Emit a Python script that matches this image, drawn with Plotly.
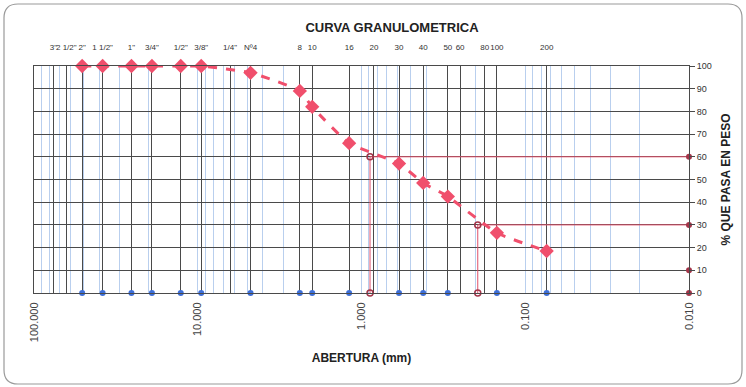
import math
import plotly.graph_objects as go

# ---------------- data ----------------
sieve_labels = ['3"', '2 1/2"', '2"', '1 1/2"', '1"', '3/4"', '1/2"', '3/8"', '1/4"', 'Nº4',
                '8', '10', '16', '20', '30', '40', '50', '60', '80', '100', '200']
sieve_mm = [76.2, 63.5, 50.8, 38.1, 25.4, 19.05, 12.7, 9.525, 6.35, 4.76,
            2.38, 2.0, 1.19, 0.84, 0.59, 0.42, 0.297, 0.25, 0.177, 0.149, 0.074]

test_sieve_mm = [50.8, 38.1, 25.4, 19.05, 12.7, 9.525, 4.76, 2.38, 2.0, 1.19, 0.59, 0.42, 0.297, 0.149, 0.074]
pct_passing = [100, 100, 100, 100, 100, 100, 97, 89, 82, 66, 57, 48.5, 42.5, 26.5, 18.5]

d_sizes = [0.887, 0.195]      # D60, D30 (mm)
d_percents = [60, 30]
right_marks = [60, 30, 10, 0]
x_min_mm, x_max_mm = 0.01, 100

decade_labels = {100: "100.000", 10: "10.000", 1: "1.000", 0.1: "0.100", 0.01: "0.010"}

# ---------------- figure ----------------
W, H = 746, 387
L, R, T, B = 34, 57, 66, 94
pw, ph = W - L - R, H - T - B

RED = "#F04F6C"
BLUE = "#3D6FD9"
DARK_RED = "#A33448"
GRID_DARK = "#4a4a4a"
GRID_LIGHT = "#b9cfee"
FONT = "Liberation Sans, Arial, sans-serif"

fig = go.Figure()

# D60 / D30 reference lines
for d, p in zip(d_sizes, d_percents):
    fig.add_trace(go.Scatter(x=[x_min_mm, d, d], y=[p, p, 0], mode="lines",
                             line=dict(color="#E0506A", width=1), hoverinfo="skip",
                             showlegend=False, cliponaxis=False))
    fig.add_trace(go.Scatter(x=[d, d], y=[p, 0], mode="markers",
                             marker=dict(symbol="circle-open", size=6, color=DARK_RED,
                                         line=dict(width=1.5)),
                             showlegend=False, cliponaxis=False))

# right edge marks
fig.add_trace(go.Scatter(x=[x_min_mm] * len(right_marks), y=right_marks, mode="markers",
                         marker=dict(symbol="circle", size=6, color=DARK_RED),
                         showlegend=False, cliponaxis=False))

# blue dots at bottom
fig.add_trace(go.Scatter(x=test_sieve_mm, y=[0] * len(test_sieve_mm), mode="markers",
                         marker=dict(symbol="circle", size=6, color=BLUE),
                         showlegend=False, cliponaxis=False))

# grading curve
fig.add_trace(go.Scatter(x=test_sieve_mm, y=pct_passing, mode="lines+markers",
                         line=dict(color=RED, width=3, dash="dash", shape="spline", smoothing=0.5),
                         marker=dict(symbol="diamond", size=11, color=RED),
                         showlegend=False, cliponaxis=False))

# minor log gridlines (light blue) with decade labels
minor_vals, minor_text = [], []
for e in range(-2, 2):
    for k in range(1, 10):
        v = round(k * 10 ** e, 6)
        minor_vals.append(v)
        minor_text.append(decade_labels.get(v, ""))
minor_vals.append(100)
minor_text.append(decade_labels[100])

fig.update_layout(
    width=W, height=H,
    margin=dict(l=L, r=R, t=T, b=B, autoexpand=False),
    paper_bgcolor="white", plot_bgcolor="white",
    font=dict(family=FONT, color="#333333"),
    title=dict(text="<b>CURVA GRANULOMETRICA</b>", x=392 / W,
               xanchor="center", y=1 - 27 / H, yanchor="middle",
               font=dict(size=13, color="#222222")),
    xaxis=dict(type="log", range=[math.log10(x_max_mm), math.log10(x_min_mm)],
               tickvals=minor_vals, ticktext=minor_text, tickangle=-90,
               tickfont=dict(size=11, color="#444444"), ticks="outside", ticklen=4,
               tickcolor="rgba(0,0,0,0)", automargin=False,
               showgrid=True, gridcolor=GRID_LIGHT, gridwidth=1,
               showline=True, linecolor=GRID_DARK, linewidth=1, mirror=True,
               zeroline=False,
               title=dict(text="<b>ABERTURA (mm)</b>", font=dict(size=12, color="#222222"),
                          standoff=12)),
    xaxis2=dict(type="log", range=[math.log10(x_max_mm), math.log10(x_min_mm)],
                overlaying="x", side="top", anchor="y", automargin=False,
                tickvals=sieve_mm, ticktext=sieve_labels, tickangle=0,
                tickfont=dict(size=8, color="#333333"), ticks="outside", ticklen=12,
                tickcolor="rgba(0,0,0,0)",
                showgrid=True, gridcolor=GRID_DARK, gridwidth=1, zeroline=False),
    yaxis=dict(range=[0, 100], side="right", dtick=10, ticks="outside", ticklen=5,
               tickcolor=GRID_DARK, tickfont=dict(size=9, color="#333333"),
               showgrid=True, gridcolor=GRID_DARK, gridwidth=1, zeroline=False,
               showline=True, linecolor=GRID_DARK, mirror=True, automargin=False,
               title=dict(text="<b>% QUE PASA EN PESO</b>", font=dict(size=12, color="#222222"),
                          standoff=10)),
)

# dummy trace so xaxis2 renders
fig.add_trace(go.Scatter(x=[1], y=[None], xaxis="x2", showlegend=False, hoverinfo="skip"))

# rounded frame around the chart
def px2p(xp, yp):
    return (xp - L) / pw, (H - B - yp) / ph

x0, y0, x1, y1, r = 4, 4, 742, 384, 14
def P(x, y):
    a, b = px2p(x, y)
    return f"{a:.5f},{b:.5f}"
path = (f"M {P(x0 + r, y0)} L {P(x1 - r, y0)} Q {P(x1, y0)} {P(x1, y0 + r)} "
        f"L {P(x1, y1 - r)} Q {P(x1, y1)} {P(x1 - r, y1)} "
        f"L {P(x0 + r, y1)} Q {P(x0, y1)} {P(x0, y1 - r)} "
        f"L {P(x0, y0 + r)} Q {P(x0, y0)} {P(x0 + r, y0)} Z")
fig.add_shape(type="path", path=path, xref="paper", yref="paper",
              line=dict(color="#9a9a9a", width=1.2), layer="below")

fig.write_html("out.html", config={"displayModeBar": False},
               post_script="document.body.style.margin='0';")
